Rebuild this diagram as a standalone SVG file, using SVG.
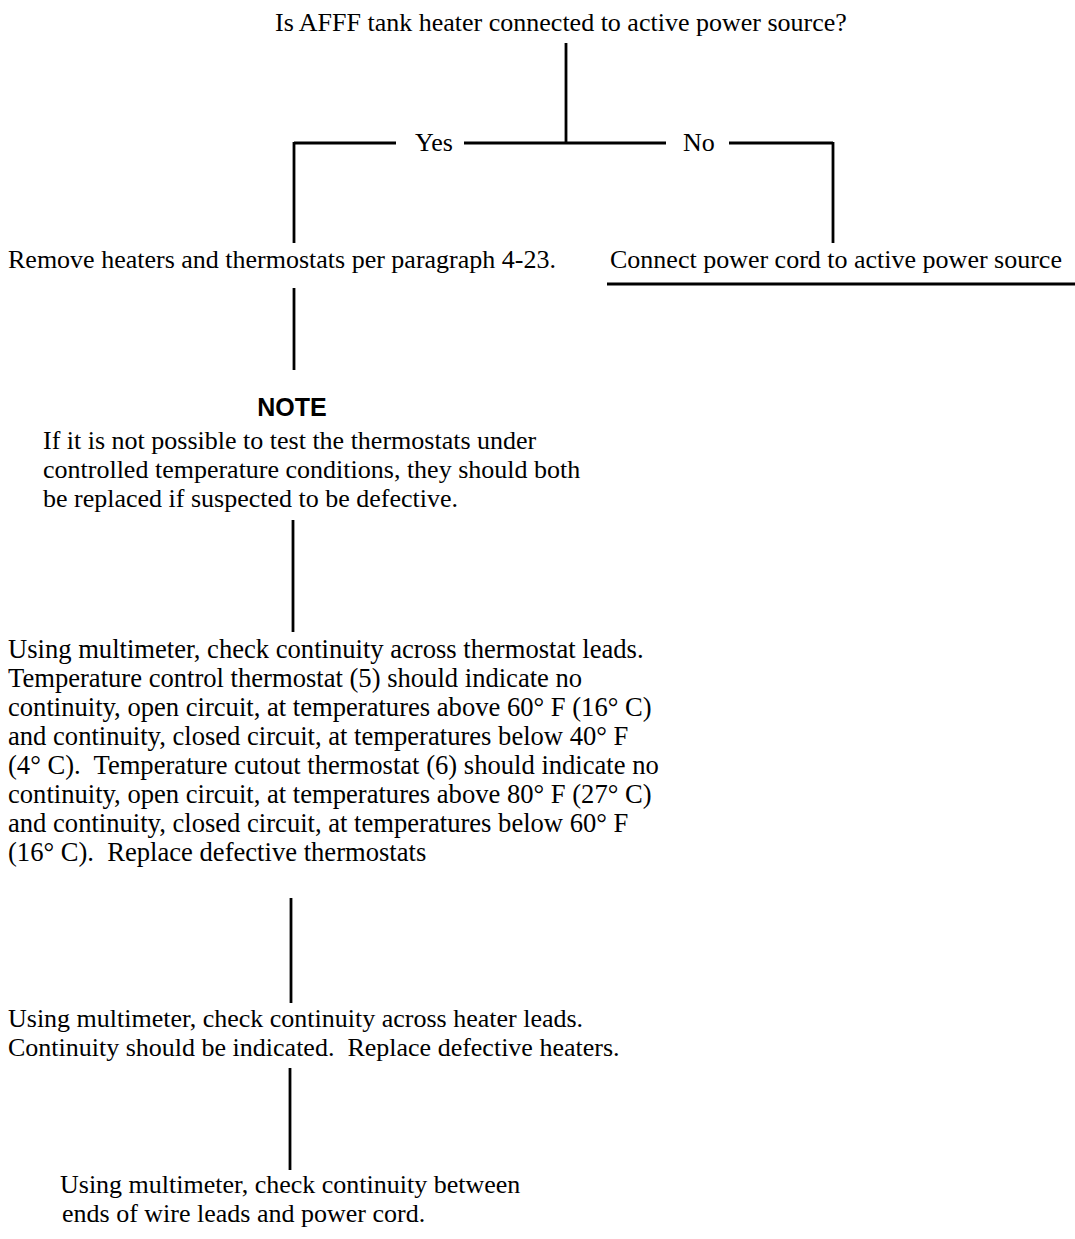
<svg xmlns="http://www.w3.org/2000/svg" width="1075" height="1239" viewBox="0 0 1075 1239">
<style>
.t{font-family:"Liberation Serif","Times New Roman",serif;font-size:26px;fill:#000;white-space:pre}
.w{font-size:26.6px}
.n{font-family:"Liberation Sans",Arial,sans-serif;font-size:25px;font-weight:bold;fill:#000}
.c{stroke:#000;stroke-width:2.8;fill:none}
</style>
<rect width="1075" height="1239" fill="#fff"/>
<g id="connectors">
<line class="c" x1="566" y1="43" x2="566" y2="143"/>
<line class="c" x1="294" y1="143" x2="396" y2="143"/>
<line class="c" x1="464" y1="143" x2="666" y2="143"/>
<line class="c" x1="729" y1="143" x2="833" y2="143"/>
<line class="c" x1="294" y1="142" x2="294" y2="243"/>
<line class="c" x1="833" y1="142" x2="833" y2="243"/>
<line class="c" x1="294" y1="288" x2="294" y2="370"/>
<line class="c" x1="293" y1="520" x2="293" y2="632"/>
<line class="c" x1="291" y1="898" x2="291" y2="1003"/>
<line class="c" x1="290" y1="1068" x2="290" y2="1170"/>
<line class="c" x1="607" y1="284" x2="1075" y2="284"/>
<text class="t" x="415" y="151">Yes</text>
<text class="t" x="683" y="151">No</text>
</g>
<g id="question">
<text class="t" x="275" y="31">Is AFFF tank heater connected to active power source?</text>
</g>
<g id="remove">
<text class="t" x="8" y="268">Remove heaters and thermostats per paragraph 4-23.</text>
</g>
<g id="connect">
<text class="t" x="610" y="268">Connect power cord to active power source</text>
</g>
<g id="note">
<text class="n" x="292" y="416" text-anchor="middle">NOTE</text>
<text class="t" x="43" y="449">If it is not possible to test the thermostats under</text>
<text class="t" x="43" y="478">controlled temperature conditions, they should both</text>
<text class="t" x="43" y="507">be replaced if suspected to be defective.</text>
</g>
<g id="check-thermostats">
<text class="t w" x="8" y="658">Using multimeter, check continuity across thermostat leads.</text>
<text class="t w" x="8" y="687">Temperature control thermostat (5) should indicate no</text>
<text class="t w" x="8" y="716">continuity, open circuit, at temperatures above 60° F (16° C)</text>
<text class="t w" x="8" y="745">and continuity, closed circuit, at temperatures below 40° F</text>
<text class="t w" x="8" y="774">(4° C).  Temperature cutout thermostat (6) should indicate no</text>
<text class="t w" x="8" y="803">continuity, open circuit, at temperatures above 80° F (27° C)</text>
<text class="t w" x="8" y="832">and continuity, closed circuit, at temperatures below 60° F</text>
<text class="t w" x="8" y="861">(16° C).  Replace defective thermostats</text>
</g>
<g id="check-heaters">
<text class="t" x="8" y="1027">Using multimeter, check continuity across heater leads.</text>
<text class="t" x="8" y="1056">Continuity should be indicated.  Replace defective heaters.</text>
</g>
<g id="check-wires">
<text class="t" x="60" y="1193">Using multimeter, check continuity between</text>
<text class="t" x="62" y="1222">ends of wire leads and power cord.</text>
</g>
</svg>
